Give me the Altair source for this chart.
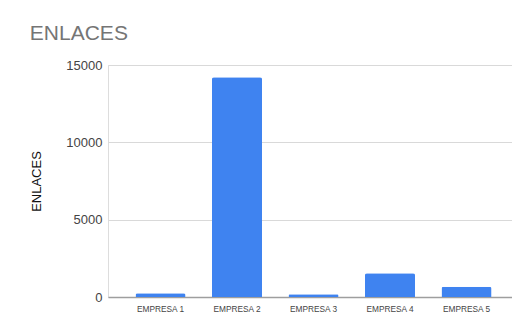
import altair as alt
import pandas as pd

empresas = ["EMPRESA 1", "EMPRESA 2", "EMPRESA 3", "EMPRESA 4", "EMPRESA 5"]
enlaces = [250, 14200, 170, 1530, 670]
y_ticks = [0, 5000, 10000, 15000]

df = pd.DataFrame({"empresa": empresas, "enlaces": enlaces})

FONT = "Liberation Sans"

chart = (
    alt.Chart(df)
    .mark_bar(color="#3f83f0", cornerRadiusTopLeft=2, cornerRadiusTopRight=2)
    .encode(
        x=alt.X(
            "empresa:N",
            sort=empresas,
            title=None,
            scale=alt.Scale(paddingInner=0.346, paddingOuter=0.3135, align=0.573),
            axis=alt.Axis(
                labelAngle=0,
                labelFontSize=8.3,
                labelColor="#444444",
                labelFont=FONT,
                labelPadding=7,
                ticks=False,
                domainColor="#9e9e9e",
                domainWidth=1.5,
                grid=False,
            ),
        ),
        y=alt.Y(
            "enlaces:Q",
            title="ENLACES",
            scale=alt.Scale(domain=[0, 15000], nice=False),
            axis=alt.Axis(
                values=y_ticks,
                format="d",
                labelFontSize=13,
                labelColor="#444444",
                labelFont=FONT,
                labelPadding=6,
                ticks=False,
                domain=False,
                gridColor="#d9d9d9",
                gridWidth=1,
                titleFont=FONT,
                titleFontSize=13,
                titleFontWeight="normal",
                titleColor="#111111",
                titlePadding=22,
            ),
        ),
    )
    .properties(
        width=404,
        height=232,
        autosize=alt.AutoSizeParams(type="none"),
        padding={"left": 100, "top": 57, "right": 0, "bottom": 29},
        title=alt.TitleParams(
            text="ENLACES",
            anchor="start",
            dx=-1,
            dy=20,
            offset=18,
            font=FONT,
            fontSize=21,
            fontWeight="normal",
            color="#757575",
            baseline="alphabetic",
        ),
    )
    .configure_view(stroke=None)
    .configure(background="white")
)

chart.save("out.html", embed_options={"renderer": "svg", "actions": False})
